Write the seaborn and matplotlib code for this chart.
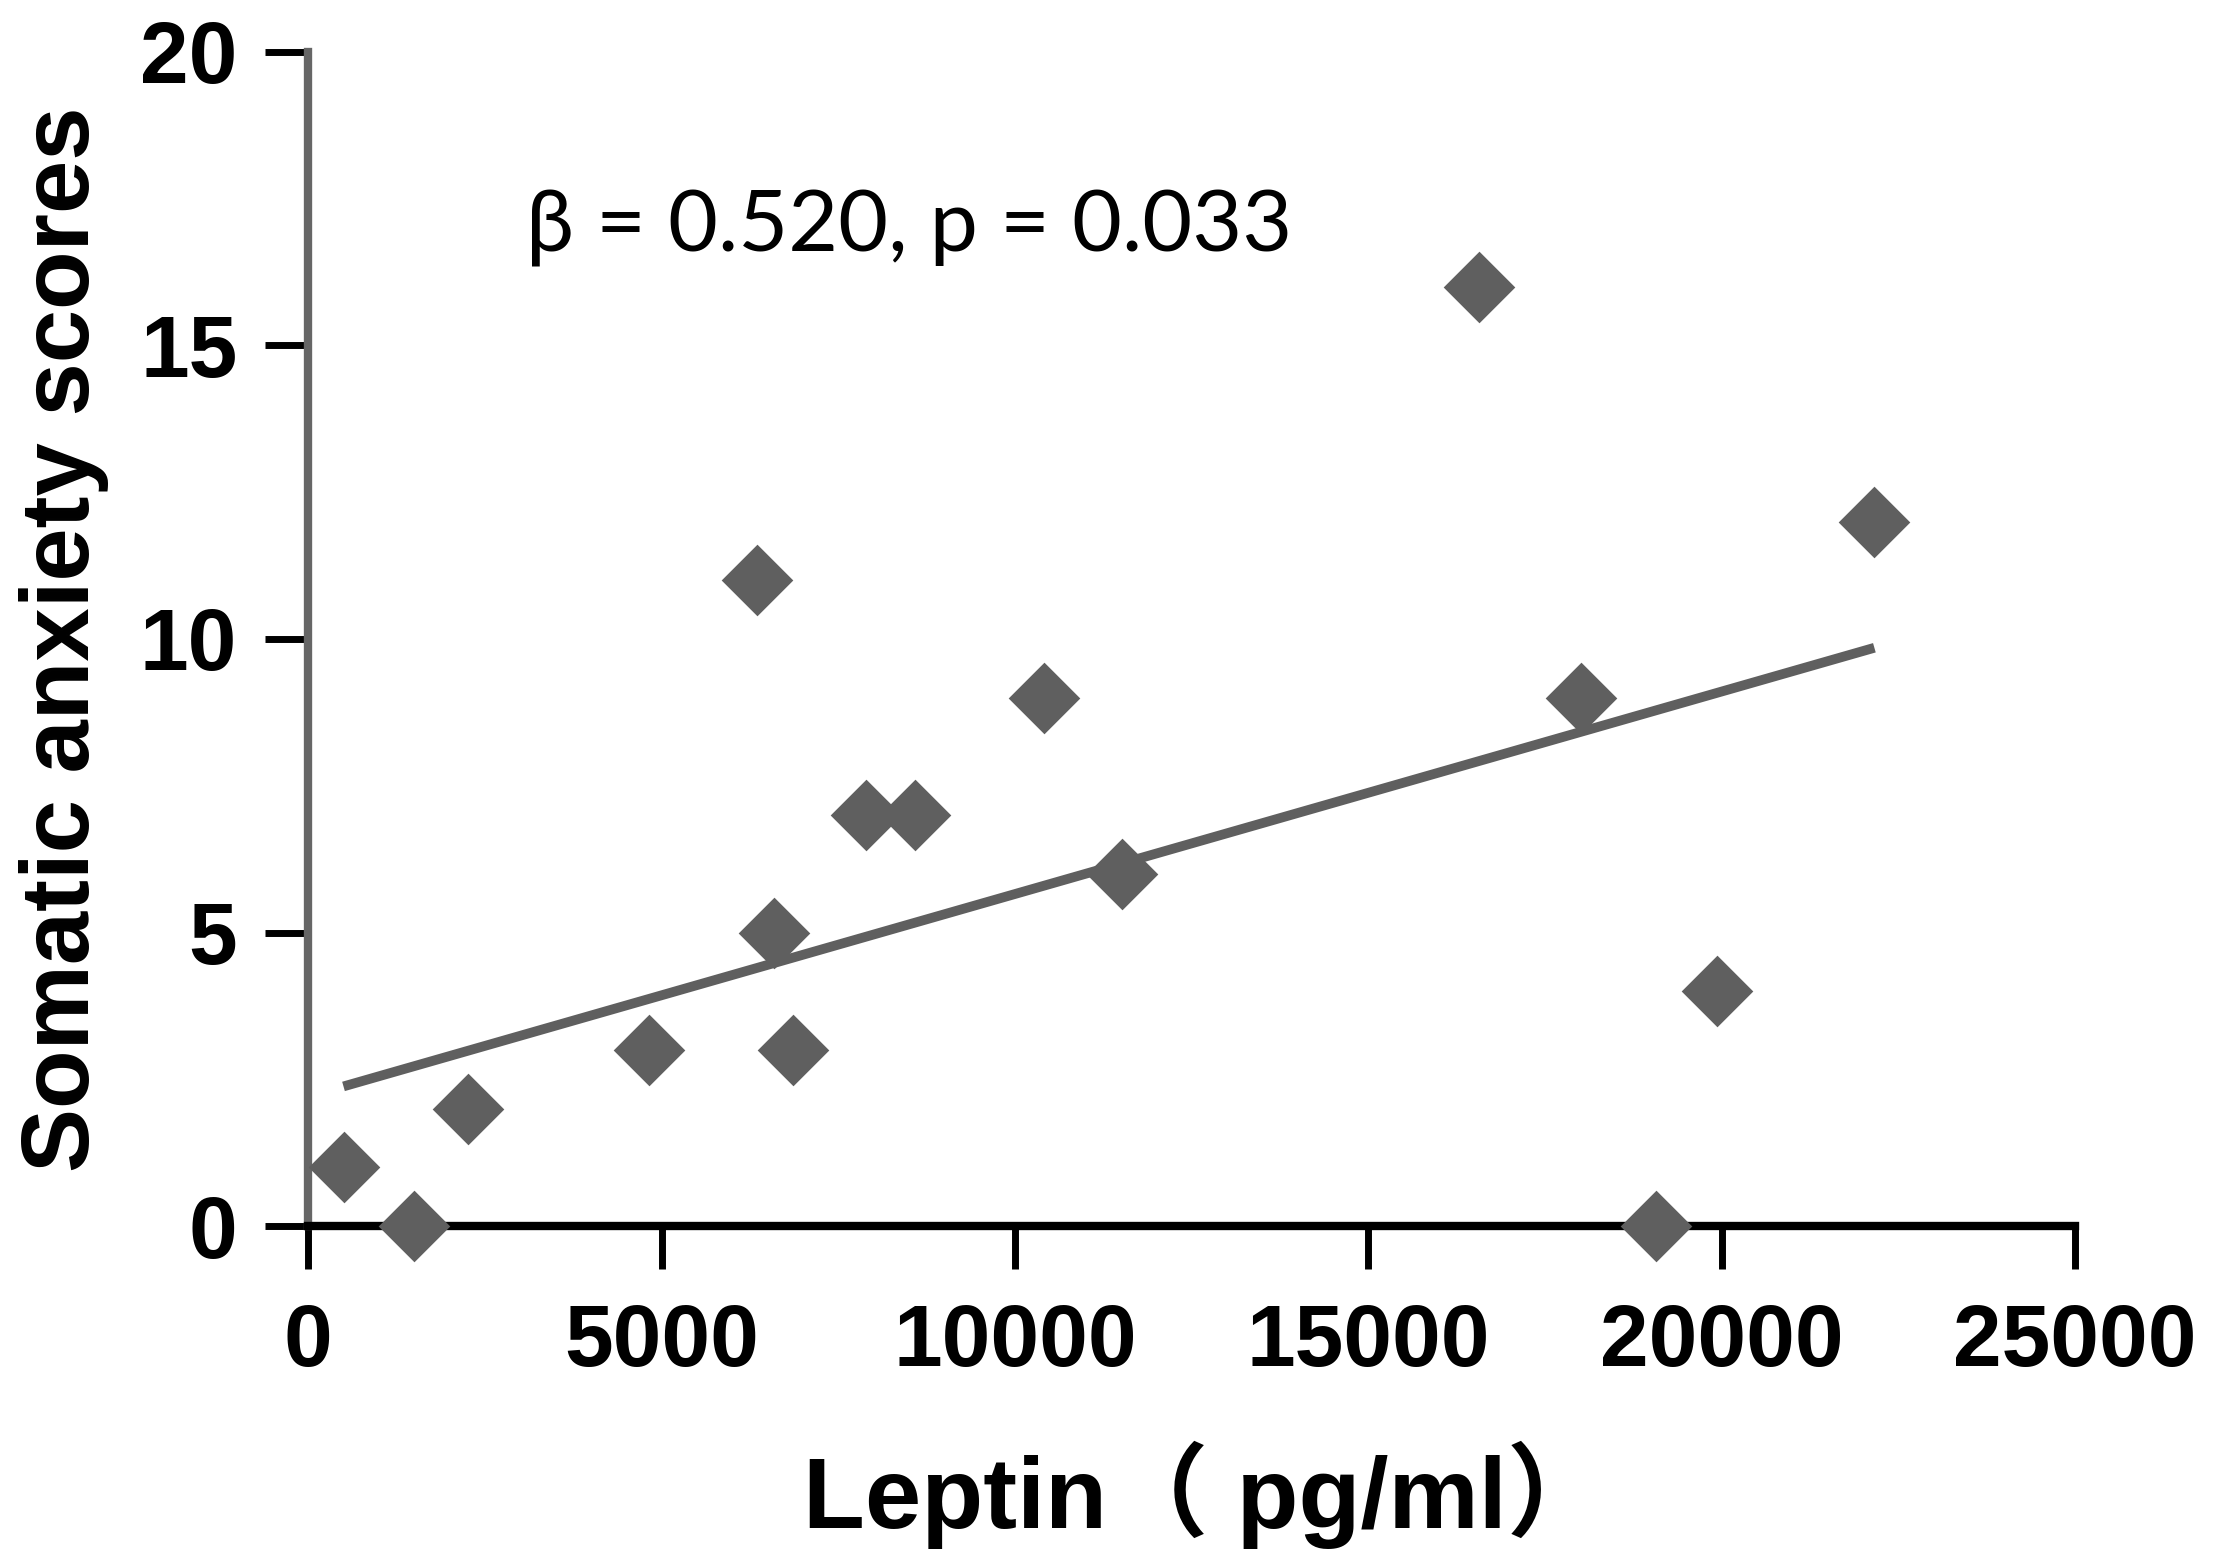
import matplotlib
matplotlib.use("Agg")
import pandas as pd
import seaborn as sns
import matplotlib.pyplot as plt

# values
leptin = [500, 1500, 2260, 4820, 6345, 6585, 6865, 7890, 8590,
          10410, 11510, 16570, 18015, 19075, 19935, 22160]
somatic = [1, 0, 2, 3, 11, 5, 3, 7, 7, 9, 6, 16, 9, 0, 4, 12]
# fitted line as drawn in the figure (value at lowest and highest leptin)
fit_y = [2.38, 9.85]
x_ticks = [0, 5000, 10000, 15000, 20000, 25000]
y_ticks = [0, 5, 10, 15, 20]
stats_text = "β = 0.520, p = 0.033"

df = pd.DataFrame({"Leptin": leptin, "Somatic": somatic})
fit_df = pd.DataFrame({"Leptin": [min(leptin), max(leptin)], "Somatic": fit_y})

sns.set_style("ticks")
plt.rcParams["font.family"] = ["Liberation Sans", "DejaVu Sans"]
plt.rcParams["text.color"] = "black"
plt.rcParams["axes.labelcolor"] = "black"
plt.rcParams["xtick.color"] = "black"
plt.rcParams["ytick.color"] = "black"

grey = "#5f5f5f"

fig = plt.figure(figsize=(22.17, 15.68), dpi=100)
ax = fig.add_axes([0.139, 0.218, 0.797, 0.749])

sns.scatterplot(data=df, x="Leptin", y="Somatic", ax=ax, marker="D",
                color=grey, s=1330, linewidth=0, clip_on=False, zorder=3)
sns.lineplot(data=fit_df, x="Leptin", y="Somatic", ax=ax, color=grey,
             linewidth=7, solid_capstyle="butt", zorder=2)

ax.set_xlim(0, 25000)
ax.set_ylim(0, 20)
ax.set_xticks(x_ticks)
ax.set_yticks(y_ticks)

sns.despine(ax=ax)
ax.spines["left"].set_color("#666666")
ax.spines["left"].set_linewidth(6)
ax.spines["bottom"].set_color("black")
ax.spines["bottom"].set_linewidth(6)
ax.tick_params(axis="both", direction="out", length=31, width=5, color="black",
               labelsize=63, pad=20, labelcolor="black")
ax.tick_params(axis="x", pad=24)
for lab in ax.get_xticklabels() + ax.get_yticklabels():
    lab.set_fontweight("bold")

ax.set_xlabel("Leptin（ pg/ml）", fontsize=73, fontweight="bold",
              family=["Liberation Sans", "Noto Sans CJK SC"])
ax.xaxis.set_label_coords(0.508, -0.183)
ax.set_ylabel("Somatic anxiety scores", fontsize=69, fontweight="bold", labelpad=22)

ax.text(3080, 17.0, stats_text, fontsize=62, ha="left", va="center",
        family=["Lato", "DejaVu Sans"])

fig.savefig("out.png", dpi=100)
